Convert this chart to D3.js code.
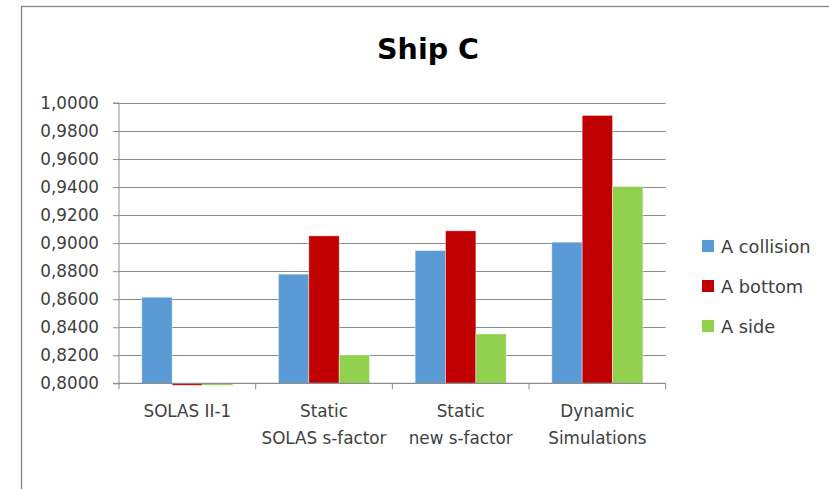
<!DOCTYPE html>
<html><head><meta charset="utf-8">
<script src="https://cdn.jsdelivr.net/npm/d3@7"></script>
<style>body{margin:0;background:#fff;} svg{display:block;}</style>
</head><body>
<svg id="chart" width="829" height="489"></svg>
<script>
const title = "Ship C";
const categories = [["SOLAS II-1"], ["Static", "SOLAS s-factor"], ["Static", "new s-factor"], ["Dynamic", "Simulations"]];
const seriesNames = ["A collision", "A bottom", "A side"];
const seriesColors = ["#5B9BD5", "#C00000", "#92D050"];
const aCollision = [0.8614, 0.8779, 0.8947, 0.9007];
const aBottom = [0.7986, 0.9052, 0.9088, 0.9911];
const aSide = [0.7986, 0.8202, 0.8352, 0.9404];
const yTicks = [0.80, 0.82, 0.84, 0.86, 0.88, 0.90, 0.92, 0.94, 0.96, 0.98, 1.00];

const series = [aCollision, aBottom, aSide];
const font = "'DejaVu Sans', sans-serif";
const textColor = "#404040";
const gridColor = "#8c8c8c";

const svg = d3.select("#chart");
const W = 829, H = 489;
const plot = {left: 119, right: 665.7, top: 103, bottom: 383.3};

// outer frame
svg.append("rect").attr("x", 21.5).attr("y", 6.5).attr("width", 900).attr("height", 600)
  .attr("fill", "none").attr("stroke", "#868686").attr("stroke-width", 1.3);

svg.append("text").attr("x", 428).attr("y", 59).attr("text-anchor", "middle")
  .attr("font-family", font).attr("font-weight", "bold").attr("font-size", 28.5)
  .attr("fill", "#000").text(title);

const x0 = d3.scaleBand().domain(d3.range(categories.length)).range([plot.left, plot.right]).paddingInner(0).paddingOuter(0);
const x1 = d3.scaleBand().domain(d3.range(series.length)).range([0, x0.bandwidth()]).paddingInner(0).paddingOuter(0.75);
const y = d3.scaleLinear().domain([0.8, 1.0]).range([plot.bottom, plot.top]);

// gridlines
svg.append("g").selectAll("line").data(yTicks.slice(1)).join("line")
  .attr("x1", plot.left).attr("x2", plot.right)
  .attr("y1", d => Math.round(y(d)) + 0.5).attr("y2", d => Math.round(y(d)) + 0.5)
  .attr("stroke", gridColor).attr("stroke-width", 1);

// bars
const fmt = v => v.toFixed(4).replace(".", ",");
categories.forEach((c, i) => {
  series.forEach((s, j) => {
    const v = s[i];
    const top = y(Math.max(v, 0.8));
    const h = Math.abs(y(v) - y(0.8));
    svg.append("rect")
      .attr("x", x0(i) + x1(j)).attr("y", top)
      .attr("width", x1.bandwidth()).attr("height", h)
      .attr("fill", seriesColors[j])
      .attr("stroke", "rgba(255,255,255,0.5)").attr("stroke-width", 0.8);
  });
});

// y axis
const yAxis = d3.axisLeft(y).tickValues(yTicks).tickSize(6).tickPadding(14).tickFormat(fmt);
const ya = svg.append("g").attr("transform", `translate(${plot.left},0)`).call(yAxis);
ya.select(".domain").attr("stroke", gridColor).attr("d", `M-6,${y(1.0)}H0V${y(0.8)}H-6`);
ya.selectAll(".tick line").attr("stroke", gridColor);
ya.selectAll(".tick text").attr("font-family", font).attr("font-size", 16.8).attr("fill", textColor);

// x axis
const xa = svg.append("g").attr("transform", `translate(0,${plot.bottom})`);
xa.append("line").attr("x1", plot.left).attr("x2", plot.right).attr("y1", 0).attr("y2", 0).attr("stroke", gridColor).attr("stroke-width", 1.2);
const edges = d3.range(categories.length + 1).map(i => i < categories.length ? x0(i) : plot.right);
xa.selectAll("line.tk").data(edges).join("line").attr("class", "tk")
  .attr("x1", d => d).attr("x2", d => d).attr("y1", 0).attr("y2", 6).attr("stroke", gridColor);
categories.forEach((c, i) => {
  const t = xa.append("text").attr("x", x0(i) + x0.bandwidth() / 2).attr("y", 34)
    .attr("text-anchor", "middle").attr("font-family", font).attr("font-size", 16.8).attr("fill", textColor);
  c.forEach((line, k) => {
    t.append("tspan").attr("x", x0(i) + x0.bandwidth() / 2).attr("dy", k === 0 ? 0 : 27).text(line);
  });
});

// legend
const lg = svg.append("g");
seriesNames.forEach((n, j) => {
  const cy = 246 + j * 40;
  lg.append("rect").attr("x", 702).attr("y", cy - 6).attr("width", 12).attr("height", 12).attr("fill", seriesColors[j]);
  lg.append("text").attr("x", 721).attr("y", cy + 6.5).attr("font-family", font).attr("font-size", 17.8)
    .attr("fill", textColor).text(n);
});
</script>
</body></html>
